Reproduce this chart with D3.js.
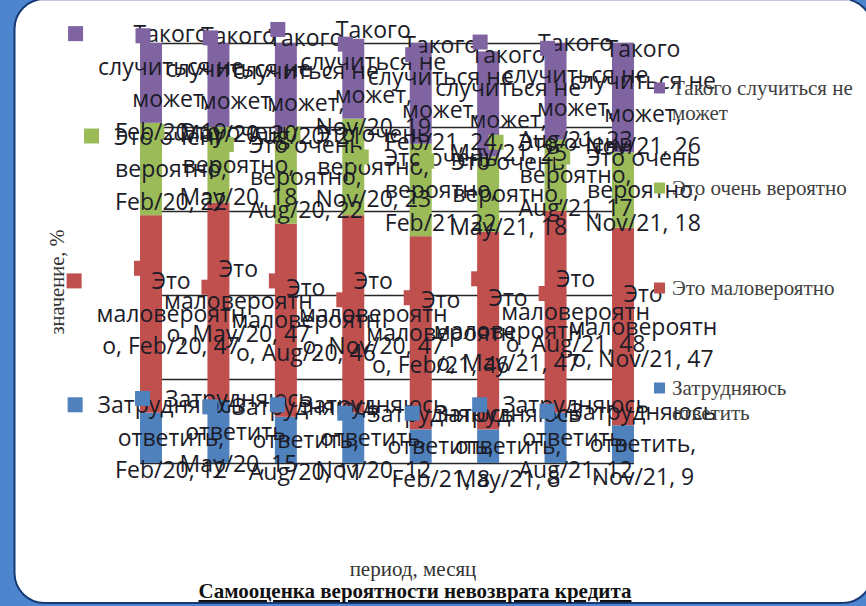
<!DOCTYPE html>
<html>
<head>
<meta charset="utf-8">
<script src="https://cdn.jsdelivr.net/npm/d3@7"></script>
<style>
  html, body { margin: 0; padding: 0; background: #ffffff; }
  svg { display: block; }
</style>
</head>
<body>
<svg id="chart" width="866" height="606"></svg>
<script>
// Survey periods (quarterly waves)
const periods = ["Feb/20", "May/20", "Aug/20", "Nov/20", "Feb/21", "May/21", "Aug/21", "Nov/21"];

// Answer shares, % (stacked from bottom to top)
const hardToSay    = [12, 15, 11, 12, 8, 8, 12, 9];     // Затрудняюсь ответить
const unlikely     = [47, 47, 46, 47, 46, 47, 48, 47];  // Это маловероятно
const veryLikely   = [22, 18, 22, 23, 22, 18, 17, 18];  // Это очень вероятно
const cannotHappen = [19, 20, 21, 19, 24, 25, 23, 26];  // Такого случиться не может

const seriesNames = ["Затрудняюсь ответить", "Это маловероятно", "Это очень вероятно", "Такого случиться не может"];
const seriesValues = [hardToSay, unlikely, veryLikely, cannotHappen];
const seriesColors = ["#4f81bd", "#c0504d", "#9bbb59", "#8064a2"];

// Wrapped form of each series name inside its data label; the last line
// carries the rest of the name followed by "period, value".
const labelHeads = [["Затрудняюсь", "ответить,"], ["Это", "маловероятн"], ["Это очень", "вероятно,"], ["Такого", "случиться не", "может,"]];
const labelTailPrefix = ["", "о, ", "", ""];

// Legend text, wrapped as in the side legend
const legendLines = [["Затрудняюсь", "ответить"], ["Это маловероятно"], ["Это очень вероятно"], ["Такого случиться не", "может"]];

const yTicks = [0, 20, 40, 60, 80, 100];
const yTitle = "значение, %";
const xTitle = "период, месяц";
const chartTitle = "Самооценка вероятности невозврата кредита";

const W = 866, H = 606;
const serif = "'Liberation Serif', 'Times New Roman', serif";
const svg = d3.select("#chart");

// ---- frame: blue backdrop with a rounded white panel ----
svg.append("rect").attr("x", 0).attr("y", 0).attr("width", W).attr("height", H).attr("fill", "#4d86cf");
svg.append("rect")
  .attr("x", 14.5).attr("y", -1).attr("width", 858).attr("height", 604)
  .attr("rx", 30).attr("ry", 30)
  .attr("fill", "#ffffff").attr("stroke", "#173a74").attr("stroke-width", 2);
svg.append("line").attr("x1", 40).attr("x2", 850).attr("y1", 0.5).attr("y2", 0.5)
  .attr("stroke", "#c3cbe0").attr("stroke-width", 1);

// ---- scales ----
const x = d3.scaleBand().domain(periods).range([117.3, 656.7]).paddingInner(0.674).paddingOuter(0.337);
const y = d3.scaleLinear().domain([0, 100]).range([463, 43]);

const rows = periods.map((p, i) => {
  const r = { period: p };
  seriesNames.forEach((s, k) => { r[s] = seriesValues[k][i]; });
  return r;
});
const stacked = d3.stack().keys(seriesNames)(rows);

// ---- horizontal gridlines ----
const gx0 = x(periods[0]), gx1 = x(periods[periods.length - 1]) + x.bandwidth();
svg.append("g").selectAll("line").data(yTicks).join("line")
  .attr("x1", gx0).attr("x2", gx1)
  .attr("y1", d => Math.round(y(d)) + 0.5).attr("y2", d => Math.round(y(d)) + 0.5)
  .attr("stroke", "#262626").attr("stroke-width", 1.3);

// ---- stacked bars ----
const barG = svg.append("g");
stacked.forEach((layer, k) => {
  barG.append("g").attr("fill", seriesColors[k])
    .selectAll("rect").data(layer).join("rect")
    .attr("x", d => x(d.data.period))
    .attr("width", x.bandwidth())
    .attr("y", d => y(d[1]))
    .attr("height", d => y(d[0]) - y(d[1]));
});

// ---- data labels with legend keys ----
const labelFont = "'Open Sans', 'Noto Sans', sans-serif";
const labelSize = 23;
const lineH = 32.5;
const keySize = 15, keyGap = 15;
const labelG = svg.append("g");

stacked.forEach((layer, k) => {
  layer.forEach(d => {
    const value = d.data[seriesNames[k]];
    const lines = labelHeads[k].slice();
    lines.push(labelTailPrefix[k] + d.data.period + ", " + value);
    const cx = x(d.data.period) + x.bandwidth() / 2;
    const mid = (y(d[0]) + y(d[1])) / 2;
    const firstC = mid - (lines.length - 1) * lineH / 2;

    const g = labelG.append("g");
    const t = g.append("text")
      .attr("font-family", labelFont).attr("font-size", labelSize)
      .attr("fill", "#1c1c28").attr("text-anchor", "middle");
    const spans = lines.map((ln, j) => t.append("tspan").attr("y", firstC + j * lineH + 8).text(ln));
    const tw = d3.max(spans, s => s.node().getComputedTextLength());
    const blockW = keySize + keyGap + tw;
    const left = cx + 5 - blockW / 2;
    const tcx = left + keySize + keyGap + tw / 2;
    spans.forEach(s => s.attr("x", tcx));
    g.insert("rect", "text")
      .attr("x", left).attr("y", firstC - 8)
      .attr("width", keySize).attr("height", keySize)
      .attr("fill", seriesColors[k]);
  });
});

// ---- side legend ----
const legendG = svg.append("g").attr("font-family", serif)
  .attr("font-size", 21).attr("fill", "#404040");
const legendOrder = [3, 2, 1, 0];
legendOrder.forEach((k, i) => {
  const cy = 88 + i * 100;
  legendG.append("rect").attr("x", 654).attr("y", cy - 5.5).attr("width", 11).attr("height", 11).attr("fill", seriesColors[k]);
  const t = legendG.append("text");
  legendLines[k].forEach((ln, j) => {
    t.append("tspan").attr("x", 672).attr("y", cy + 7 + j * 25).text(ln);
  });
});

// ---- axis titles and chart title ----
svg.append("text")
  .attr("transform", "translate(64,282) rotate(-90)")
  .attr("text-anchor", "middle")
  .attr("font-family", serif)
  .attr("font-size", 20.5).attr("fill", "#333333")
  .text(yTitle);

svg.append("text")
  .attr("x", 413).attr("y", 576)
  .attr("text-anchor", "middle")
  .attr("font-family", serif)
  .attr("font-size", 21).attr("fill", "#333333")
  .text(xTitle);

svg.append("text")
  .attr("x", 415).attr("y", 598)
  .attr("text-anchor", "middle")
  .attr("font-family", serif)
  .attr("font-size", 21).attr("font-weight", "bold").attr("fill", "#111111")
  .attr("text-decoration", "underline")
  .text(chartTitle);
</script>
</body>
</html>
